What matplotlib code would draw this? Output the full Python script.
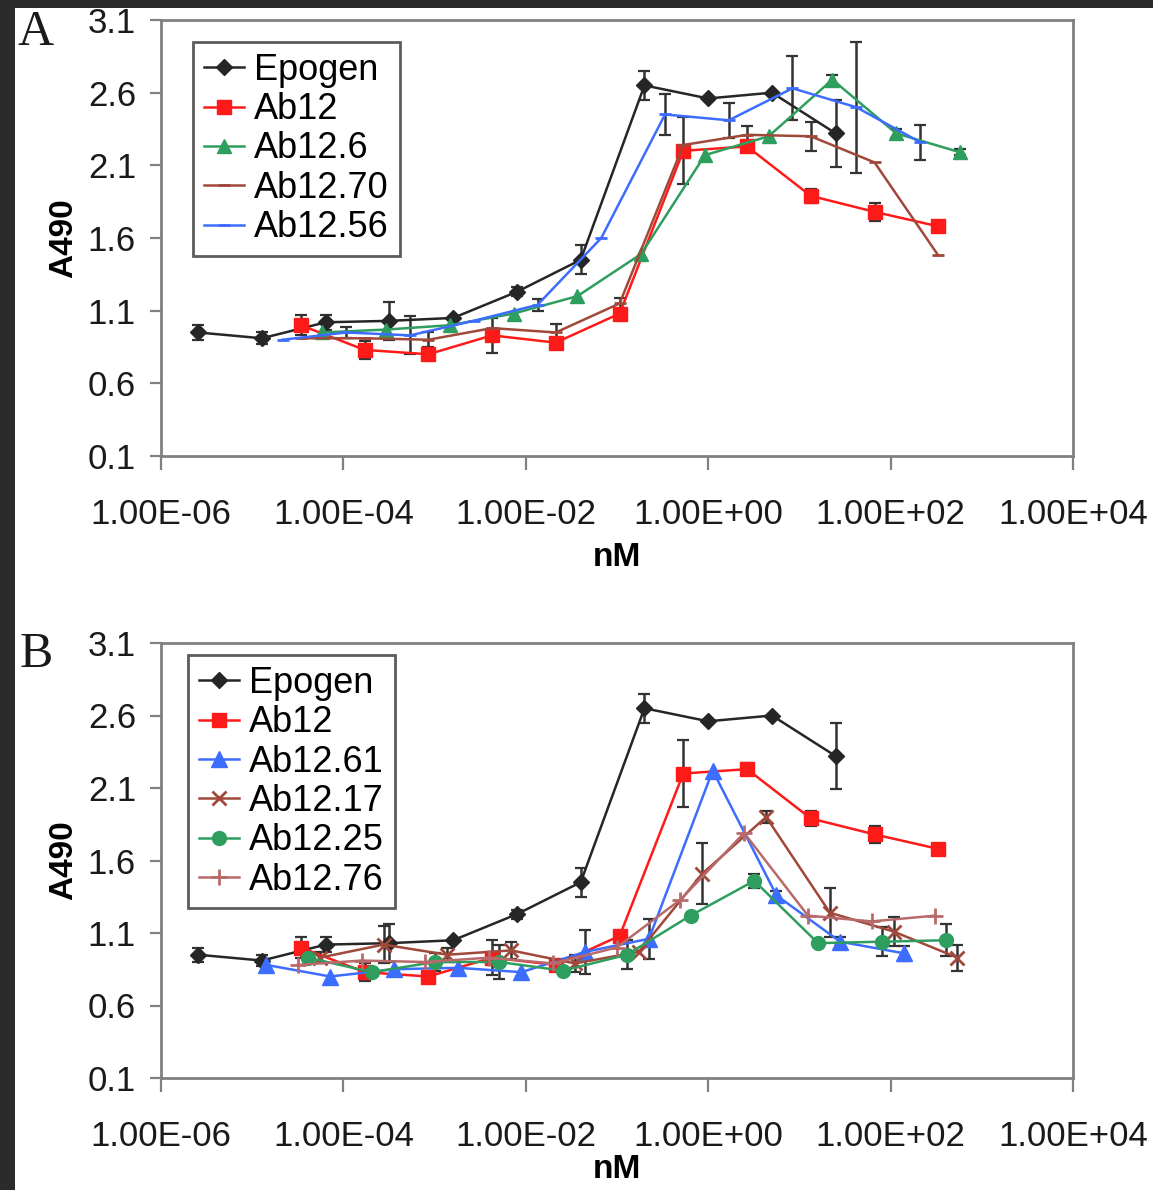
import matplotlib
matplotlib.use("Agg")
import matplotlib.pyplot as plt
from matplotlib.patches import Rectangle
from matplotlib.ticker import FixedLocator, NullLocator, FuncFormatter

plt.rcParams['font.family'] = ['Liberation Sans', 'DejaVu Sans']

# -----------------------------
# Data (x in nM, y = A490)
# -----------------------------
epogen_x = [2.56e-6, 1.28e-5, 6.4e-5, 3.2e-4, 1.6e-3, 8e-3, 0.04, 0.2, 1.0, 5.0, 25.0]
epogen_y = [0.95, 0.91, 1.02, 1.03, 1.05, 1.23, 1.45, 2.65, 2.56, 2.60, 2.32]
epogen_err = [0.05, 0.04, 0.05, 0.13, 0, 0.03, 0.10, 0.10, 0, 0, 0.23]

ab12_x = [3.41e-5, 1.71e-4, 8.53e-4, 4.27e-3, 0.0213, 0.107, 0.533, 2.67, 13.3, 66.7, 333.3]
ab12_y = [1.00, 0.83, 0.80, 0.93, 0.88, 1.08, 2.20, 2.23, 1.89, 1.78, 1.68]
ab12_err = [0.07, 0.06, 0, 0.12, 0, 0.03, 0.23, 0.04, 0.05, 0.06, 0]

ab12_6_x = [5.89e-5, 2.94e-4, 1.47e-3, 7.36e-3, 0.0368, 0.184, 0.92, 4.6, 23.0, 115.0, 575.0]
ab12_6_y = [0.95, 0.97, 1.00, 1.08, 1.20, 1.49, 2.17, 2.30, 2.69, 2.32, 2.19]
ab12_6_err = [0, 0, 0, 0, 0, 0, 0, 0, 0.03, 0.03, 0.02]

ab12_70_x = ab12_x
ab12_70_y = [0.91, 0.91, 0.90, 0.98, 0.95, 1.15, 2.24, 2.31, 2.30, 2.12, 1.48]
ab12_70_err = [0, 0, 0.05, 0, 0.06, 0.04, 0, 0.06, 0.10, 0, 0]

ab12_56_x = [2.15e-5, 1.08e-4, 5.38e-4, 2.69e-3, 0.01344, 0.0672, 0.336, 1.68, 8.4, 42.0, 210.0]
ab12_56_y = [0.90, 0.95, 0.93, 1.03, 1.14, 1.60, 2.45, 2.41, 2.63, 2.50, 2.26]
ab12_56_err = [0, 0.04, 0.13, 0, 0.04, 0, 0.14, 0.12, 0.22, 0.45, 0.12]

ab12_61_x = [1.43e-5, 7.17e-5, 3.58e-4, 1.79e-3, 8.96e-3, 0.0448, 0.224, 1.12, 5.6, 28.0, 140.0]
ab12_61_y = [0.88, 0.80, 0.85, 0.86, 0.83, 0.97, 1.06, 2.22, 1.36, 1.04, 0.96]
ab12_61_err = [0, 0, 0, 0, 0, 0.15, 0.14, 0, 0.03, 0.03, 0.05]

ab12_17_x = [5.53e-5, 2.76e-4, 1.38e-3, 6.91e-3, 0.0346, 0.173, 0.864, 4.32, 21.6, 108.0, 540.0]
ab12_17_y = [0.93, 1.02, 0.95, 0.98, 0.89, 0.97, 1.51, 1.90, 1.24, 1.11, 0.93]
ab12_17_err = [0.04, 0.13, 0.05, 0.06, 0.06, 0, 0.21, 0.04, 0.17, 0.10, 0.09]

ab12_25_x = [4.1e-5, 2.05e-4, 1.02e-3, 5.12e-3, 0.0256, 0.128, 0.64, 3.2, 16.0, 80.0, 400.0]
ab12_25_y = [0.93, 0.83, 0.90, 0.90, 0.84, 0.95, 1.22, 1.46, 1.03, 1.04, 1.05]
ab12_25_err = [0, 0, 0.06, 0.12, 0, 0.10, 0, 0.05, 0.02, 0.10, 0.11]

ab12_76_x = [3.17e-5, 1.59e-4, 7.94e-4, 3.97e-3, 0.0198, 0.0992, 0.496, 2.48, 12.4, 62.0, 310.0]
ab12_76_y = [0.88, 0.91, 0.90, 0.93, 0.89, 1.00, 1.33, 1.79, 1.22, 1.18, 1.22]

x_ticks = [1e-6, 1e-4, 1e-2, 1e0, 1e2, 1e4]
y_ticks = [0.1, 0.6, 1.1, 1.6, 2.1, 2.6, 3.1]

BLACK = "#262626"
RED = "#ff1a1a"
GREEN = "#2e9e5e"
BROWN = "#a0483a"
BLUE = "#3d6dff"
ROSY = "#b86a6a"
SPINE = "#808080"
ERR = "#333333"

W, H = 1153, 1190


def series(ax, x, y, label, color, marker, ms, err=None, mew=1.0):
    ax.plot(x, y, color=color, marker=marker, ms=ms, lw=1.8, mew=mew,
            mec=color, label=label, zorder=3)
    if err is not None:
        idx = [i for i, e in enumerate(err) if e > 0]
        ax.errorbar([x[i] for i in idx], [y[i] for i in idx],
                    yerr=[err[i] for i in idx], fmt="none", ecolor=ERR,
                    elinewidth=1.8, capsize=4, capthick=1.6, zorder=2)


def fmt_x(v, pos=None):
    mant, ex = f"{v:.2E}".split("E")
    return f"{mant}E{ex[0]}{int(ex[1:]):02d}"


def style_axes(ax, xlabelpad):
    ax.set_xscale("log")
    ax.set_xlim(1e-6, 1e4)
    ax.set_ylim(0.1, 3.1)
    ax.xaxis.set_major_locator(FixedLocator(x_ticks))
    ax.xaxis.set_minor_locator(NullLocator())
    ax.yaxis.set_major_locator(FixedLocator(y_ticks))
    ax.xaxis.set_major_formatter(FuncFormatter(fmt_x))
    ax.yaxis.set_major_formatter(FuncFormatter(lambda v, p: f"{v:.1f}"))
    for s in ax.spines.values():
        s.set_color(SPINE)
        s.set_linewidth(2)
    ax.tick_params(axis="both", direction="out", color=SPINE, width=1.6,
                   labelsize=25, labelcolor="#1a1a1a")
    ax.tick_params(axis="x", length=10, pad=20)
    ax.tick_params(axis="y", length=8, pad=10)
    ax.set_ylabel("A490", fontsize=24, fontweight="bold", labelpad=6)
    ax.set_xlabel("nM", fontsize=24, fontweight="bold", labelpad=xlabelpad)


fig = plt.figure(figsize=(W / 100, H / 100), dpi=100)
fig.patch.set_facecolor("#2b2b2b")
fig.add_artist(Rectangle((15 / W, 0), 1 - 15 / W, 1 - 8 / H, transform=fig.transFigure,
                         facecolor="white", edgecolor="none", zorder=0))

left = 161 / W
width = (1073 - 161) / W
axA = fig.add_axes([left, 1 - 456 / H, width, (456 - 20) / H])
axB = fig.add_axes([left, 1 - 1078 / H, width, (1078 - 643) / H])

# Panel A
series(axA, epogen_x, epogen_y, "Epogen", BLACK, "D", 8, epogen_err)
series(axA, ab12_x, ab12_y, "Ab12", RED, "s", 10, ab12_err)
series(axA, ab12_6_x, ab12_6_y, "Ab12.6", GREEN, "^", 10, ab12_6_err)
series(axA, ab12_70_x, ab12_70_y, "Ab12.70", BROWN, "_", 8, ab12_70_err, mew=2)
series(axA, ab12_56_x, ab12_56_y, "Ab12.56", BLUE, "_", 8, ab12_56_err, mew=2)

# Panel B
series(axB, epogen_x, epogen_y, "Epogen", BLACK, "D", 8, epogen_err)
series(axB, ab12_x, ab12_y, "Ab12", RED, "s", 10, ab12_err)
series(axB, ab12_61_x, ab12_61_y, "Ab12.61", BLUE, "^", 11, ab12_61_err)
series(axB, ab12_17_x, ab12_17_y, "Ab12.17", BROWN, "x", 10, ab12_17_err, mew=2)
series(axB, ab12_25_x, ab12_25_y, "Ab12.25", GREEN, "o", 10, ab12_25_err)
series(axB, ab12_76_x, ab12_76_y, "Ab12.76", ROSY, "+", 12, None, mew=2)

for ax, anchor, lp in ((axA, (32 / 912, 1 - 22 / 436), 8), (axB, (27 / 912, 1 - 12 / 435), 1)):
    style_axes(ax, lp)
    leg = ax.legend(loc="upper left", bbox_to_anchor=anchor, borderaxespad=0,
                    fontsize=26, frameon=True, fancybox=False, handlelength=1.1,
                    handletextpad=0.3, labelspacing=0.12, borderpad=0.3)
    leg.get_frame().set_edgecolor("#333333")
    leg.get_frame().set_linewidth(2)

for letter, ypx in (("A", 33), ("B", 655)):
    fig.text(36 / W, 1 - ypx / H, letter, fontsize=36,
             family=["Liberation Serif", "DejaVu Serif"],
             ha="center", va="center", color="#1a1a1a")

fig.savefig("out.png", dpi=100, facecolor=fig.get_facecolor())
